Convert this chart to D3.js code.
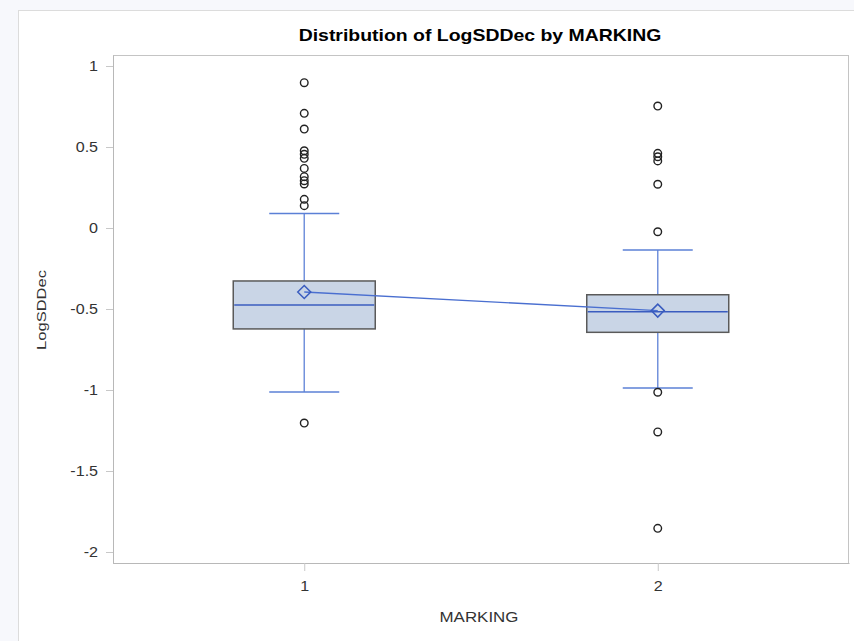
<!DOCTYPE html>
<html><head><meta charset="utf-8">
<script src="https://cdn.jsdelivr.net/npm/d3@7"></script>
<style>
html,body{margin:0;padding:0;background:#f7f8fc;}
svg{display:block;}
</style></head>
<body>
<svg id="chart" width="854" height="641"></svg>
<script>
const categories = ["1", "2"];
const q1 = [-0.623, -0.644];
const median = [-0.475, -0.517];
const q3 = [-0.327, -0.412];
const mean = [-0.395, -0.510];
const whiskerLow = [-1.012, -0.988];
const whiskerHigh = [0.090, -0.136];
const outliers1 = [0.897, 0.708, 0.611, 0.477, 0.455, 0.430, 0.368, 0.317, 0.292, 0.272, 0.177, 0.138, -1.204];
const outliers2 = [0.753, 0.461, 0.440, 0.414, 0.270, -0.023, -1.014, -1.259, -1.854];
const yTicks = [1, 0.5, 0, -0.5, -1, -1.5, -2];
const yTickLabels = ["1", "0.5", "0", "-0.5", "-1", "-1.5", "-2"];
const outliers = [outliers1, outliers2];

const svg = d3.select("#chart");
const pLeft = 113, pRight = 849, pTop = 55, pBottom = 563;
const FONT = "Liberation Sans, Arial, sans-serif";

svg.append("rect").attr("x", 18.5).attr("y", 10.5).attr("width", 900).attr("height", 700)
  .attr("fill", "#fff").attr("stroke", "#dcdcdc");

const x = d3.scalePoint().domain(categories).range([pLeft, pRight]).padding(0.541);
const y = d3.scaleLinear().domain([-2.068, 1.068]).range([pBottom, pTop]);

svg.append("rect").attr("x", pLeft + 0.5).attr("y", pTop + 0.5)
  .attr("width", pRight - pLeft - 1).attr("height", pBottom - pTop)
  .attr("fill", "none").attr("stroke", "#c4c4c4");

const yAxis = svg.append("g").attr("transform", `translate(${pLeft},0)`)
  .call(d3.axisLeft(y).tickValues(yTicks).tickFormat((d, i) => yTickLabels[i]).tickSize(7).tickSizeOuter(0).tickPadding(6));
const xAxis = svg.append("g").attr("transform", `translate(0,${pBottom})`)
  .call(d3.axisBottom(x).tickSize(8).tickSizeOuter(0).tickPadding(10));
[yAxis, xAxis].forEach(g => {
  g.select(".domain").attr("stroke", "#b8b8b8");
  g.selectAll(".tick line").attr("stroke", "#c8c8c8");
  g.selectAll(".tick text").attr("fill", "#333").attr("font-family", FONT).attr("font-size", 14)
    .attr("transform", "scale(1.15,1)");
});

const boxW = 142, capW = 70;
const blue = "#5b80d6", darkBlue = "#3a5cbf";

categories.forEach((c, i) => {
  const cx = x(c);
  const g = svg.append("g");
  g.append("line").attr("x1", cx).attr("x2", cx).attr("y1", y(q3[i])).attr("y2", y(whiskerHigh[i]))
    .attr("stroke", blue).attr("stroke-width", 1.5).attr("opacity", 0.85);
  g.append("line").attr("x1", cx).attr("x2", cx).attr("y1", y(q1[i])).attr("y2", y(whiskerLow[i]))
    .attr("stroke", blue).attr("stroke-width", 1.5).attr("opacity", 0.85);
  g.append("line").attr("x1", cx - capW / 2).attr("x2", cx + capW / 2).attr("y1", y(whiskerHigh[i])).attr("y2", y(whiskerHigh[i]))
    .attr("stroke", blue).attr("stroke-width", 1.5);
  g.append("line").attr("x1", cx - capW / 2).attr("x2", cx + capW / 2).attr("y1", y(whiskerLow[i])).attr("y2", y(whiskerLow[i]))
    .attr("stroke", blue).attr("stroke-width", 1.5);
  g.append("rect").attr("x", cx - boxW / 2).attr("y", y(q3[i])).attr("width", boxW).attr("height", y(q1[i]) - y(q3[i]))
    .attr("fill", "#c9d5e6").attr("stroke", "#5a5a5a").attr("stroke-width", 1.5);
  g.append("line").attr("x1", cx - boxW / 2 + 1).attr("x2", cx + boxW / 2 - 1).attr("y1", y(median[i])).attr("y2", y(median[i]))
    .attr("stroke", darkBlue).attr("stroke-width", 1.5);
});

svg.append("path").datum(categories.map((c, i) => [x(c), y(mean[i])]))
  .attr("d", d3.line()).attr("fill", "none").attr("stroke", "#4a6fd0").attr("stroke-width", 1.3);

categories.forEach((c, i) => {
  const cx = x(c), cy = y(mean[i]);
  svg.append("path").attr("d", `M${cx - 6.5},${cy}L${cx},${cy - 6.5}L${cx + 6.5},${cy}L${cx},${cy + 6.5}Z`)
    .attr("fill", "none").attr("stroke", darkBlue).attr("stroke-width", 1.5);
});

categories.forEach((c, i) => {
  svg.append("g").selectAll("circle").data(outliers[i]).join("circle")
    .attr("cx", x(c)).attr("cy", d => y(d)).attr("r", 3.8)
    .attr("fill", "none").attr("stroke", "#222").attr("stroke-width", 1.4);
});

svg.append("text").attr("transform", "translate(480,41) scale(1.215,1)").attr("text-anchor", "middle")
  .attr("font-family", FONT).attr("font-weight", "bold").attr("font-size", 16)
  .attr("fill", "#000").text("Distribution of LogSDDec by MARKING");
svg.append("text").attr("transform", "translate(46,310) rotate(-90) scale(1.27,1)").attr("text-anchor", "middle")
  .attr("font-family", FONT).attr("font-size", 13)
  .attr("fill", "#333").text("LogSDDec");
svg.append("text").attr("transform", "translate(479,622) scale(1.21,1)").attr("text-anchor", "middle")
  .attr("font-family", FONT).attr("font-size", 14)
  .attr("fill", "#333").text("MARKING");
</script>
</body></html>
